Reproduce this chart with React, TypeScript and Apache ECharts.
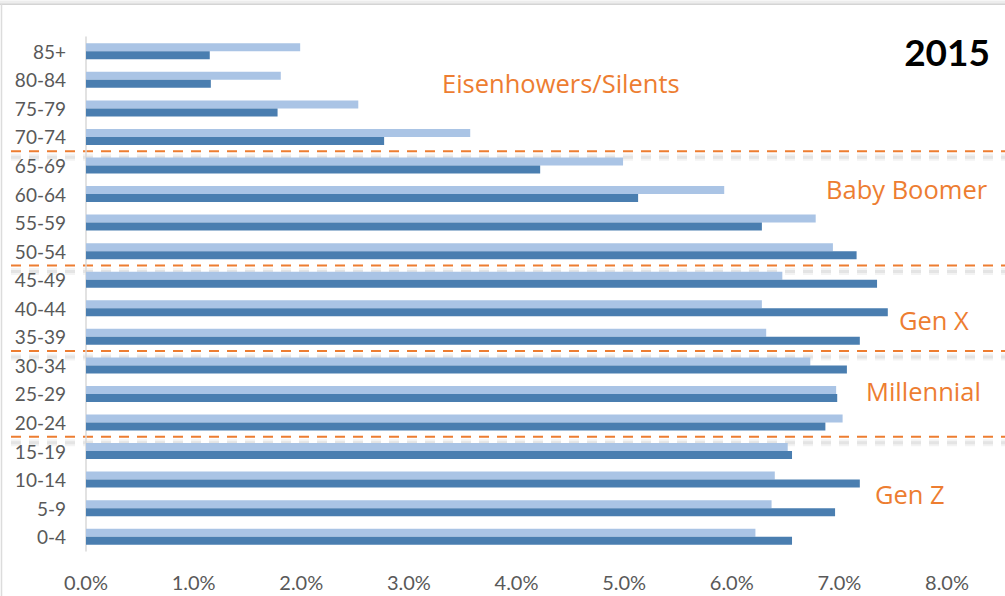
import React, { useEffect, useRef } from "react";
import * as echarts from "echarts";

const categories = [
  "0-4", "5-9", "10-14", "15-19", "20-24", "25-29", "30-34", "35-39", "40-44",
  "45-49", "50-54", "55-59", "60-64", "65-69", "70-74", "75-79", "80-84", "85+",
];
// light blue series (upper bar of each pair)
const lightValues = [
  6.22, 6.37, 6.40, 6.52, 7.03, 6.97, 6.73, 6.32, 6.28,
  6.47, 6.94, 6.78, 5.93, 4.99, 3.57, 2.53, 1.81, 1.99,
];
// dark blue series (lower bar of each pair)
const darkValues = [
  6.56, 6.96, 7.19, 6.56, 6.87, 6.98, 7.07, 7.19, 7.45,
  7.35, 7.16, 6.28, 5.13, 4.22, 2.77, 1.78, 1.16, 1.15,
];
const xTicks = [0, 1, 2, 3, 4, 5, 6, 7, 8];
// boundaries between generations: lower category index of each pair
const boundaryAfter = [3, 6, 9, 13];
const generationLabels = ["Eisenhowers/Silents", "Baby Boomer", "Gen X", "Millennial", "Gen Z"];
const yearLabel = "2015";

const ORANGE = "#ED7D31";
const FONT = "Lato, 'Open Sans', sans-serif";
const LABEL_FONT = "'Open Sans', Lato, sans-serif";

export default function App() {
  const ref = useRef<HTMLDivElement>(null);
  useEffect(() => {
    if (!ref.current) return;
    const chart = echarts.init(ref.current, undefined, { renderer: "svg" });
    const option: any = {
      animation: false,
      backgroundColor: "#ffffff",
      grid: { left: 86, right: 58, top: 37, bottom: 45, containLabel: false },
      xAxis: {
        type: "value",
        min: xTicks[0],
        max: xTicks[xTicks.length - 1],
        interval: 1,
        axisLine: { show: false },
        axisTick: { show: false },
        splitLine: { show: false },
        axisLabel: {
          color: "#595959",
          fontSize: 20,
          fontFamily: FONT,
          margin: 21,
          formatter: (v: number) => v.toFixed(1) + "%",
        },
      },
      yAxis: {
        type: "category",
        data: categories,
        axisLine: { show: true, lineStyle: { color: "#D9D9D9", width: 1.5 } },
        axisTick: { show: false },
        axisLabel: { color: "#595959", fontSize: 19, fontFamily: FONT, margin: 20 },
      },
      series: [
        {
          type: "bar",
          data: lightValues,
          barWidth: 8,
          barGap: "0%",
          itemStyle: { color: "#AAC4E5" },
        },
        {
          type: "bar",
          data: darkValues,
          barWidth: 8,
          barGap: "0%",
          itemStyle: { color: "#4A7EB0" },
        },
      ],
    };
    chart.setOption(option);

    const graphics: any[] = [];
    // frame
    graphics.push({
      type: "line",
      shape: { x1: 0, y1: 4, x2: 1005, y2: 4 },
      style: { stroke: "#D4D4D4", lineWidth: 2 },
      silent: true,
    });
    graphics.push({
      type: "line",
      shape: { x1: 0, y1: 2, x2: 1005, y2: 2 },
      style: { stroke: "#EDEDED", lineWidth: 3 },
      silent: true,
    });
    graphics.push({
      type: "line",
      shape: { x1: 1.5, y1: 4, x2: 1.5, y2: 596 },
      style: { stroke: "#DCDCDC", lineWidth: 1.5 },
      silent: true,
    });
    // dashed separators at category boundaries, with a soft shadow below
    boundaryAfter.forEach((i) => {
      const a = chart.convertToPixel({ yAxisIndex: 0 }, categories[i]) as number;
      const b = chart.convertToPixel({ yAxisIndex: 0 }, categories[i + 1]) as number;
      const y = (a + b) / 2;
      graphics.push({
        type: "line",
        shape: { x1: 11, y1: y + 6, x2: 1005, y2: y + 6 },
        style: { stroke: "rgba(80,80,80,0.07)", lineWidth: 7, lineDash: [10, 8] },
        silent: true,
      });
      graphics.push({
        type: "line",
        shape: { x1: 11, y1: y + 6, x2: 1005, y2: y + 6 },
        style: { stroke: "rgba(80,80,80,0.09)", lineWidth: 3, lineDash: [10, 8] },
        silent: true,
      });
      graphics.push({
        type: "line",
        shape: { x1: 11, y1: y, x2: 1005, y2: y },
        style: { stroke: ORANGE, lineWidth: 2, lineDash: [10, 8] },
        silent: true,
      });
    });
    const labelPos = [
      { x: 442, y: 83 },
      { x: 826, y: 189 },
      { x: 899, y: 320 },
      { x: 866, y: 391 },
      { x: 875, y: 494 },
    ];
    generationLabels.forEach((t, k) => {
      graphics.push({
        type: "text",
        x: labelPos[k].x,
        y: labelPos[k].y,
        style: {
          text: t,
          fill: ORANGE,
          font: `25.5px ${LABEL_FONT}`,
          textAlign: "left",
          textVerticalAlign: "middle",
        },
        silent: true,
      });
    });
    graphics.push({
      type: "text",
      x: 990,
      y: 51,
      style: {
        text: yearLabel,
        fill: "#000000",
        font: `bold 37px ${FONT}`,
        textAlign: "right",
        textVerticalAlign: "middle",
      },
      silent: true,
    });
    chart.setOption({ graphic: { elements: graphics } });

    return () => chart.dispose();
  }, []);
  return (
    <div
      ref={ref}
      style={{ position: "absolute", left: 0, top: 0, width: 1005, height: 596 }}
    />
  );
}
